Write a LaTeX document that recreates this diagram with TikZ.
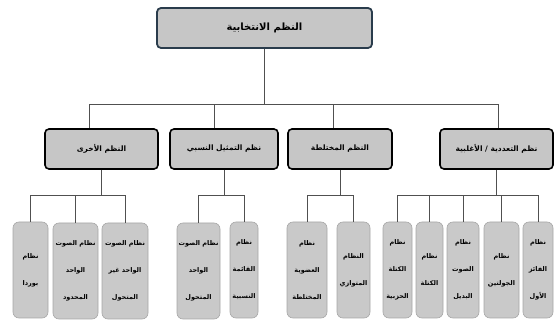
\documentclass[tikz,border=0pt]{standalone}
\usepackage{fontspec}
\usepackage{tikz}
\newfontfamily\arabicfont[Script=Arabic]{DejaVu Sans}
\TeXXeTstate=1
\newcommand{\rl}[1]{\beginR #1\endR}
\definecolor{boxgray}{HTML}{C6C6C6}
\definecolor{leafgray}{HTML}{C9C9C9}
\definecolor{topedge}{HTML}{2A3C4C}
\definecolor{linkgray}{HTML}{505050}

\begin{document}
\begin{tikzpicture}[x=1pt,y=-1pt,
	topbox/.style={draw=topedge,line width=1.8pt,fill=boxgray,rounded corners=4pt,
		minimum width=215pt,minimum height=40pt,inner sep=0pt,
		font=\arabicfont\bfseries\fontsize{10}{12}\selectfont},
	groupbox/.style={draw=black,line width=1.6pt,fill=boxgray,rounded corners=4pt,
		minimum height=40pt,inner sep=0pt,
		font=\arabicfont\bfseries\fontsize{7.5}{9}\selectfont},
	leafbox/.style={draw=gray!70,line width=0.6pt,fill=leafgray,rounded corners=6pt,
		minimum height=96pt,inner sep=0pt,align=center,
		font=\arabicfont\bfseries\fontsize{6.5}{27}\selectfont},
	link/.style={draw=linkgray,line width=0.9pt}]
	\useasboundingbox (0,0) rectangle (555,331);
	% top
	\node[topbox] (sys) at (264.5,28) {\rl{النظم الانتخابية}};
	% groups
	\node[groupbox,minimum width=113pt] (oth) at (101.5,149) {\rl{النظم الأخرى}};
	\node[groupbox,minimum width=108pt] (pr) at (224,149) {\rl{نظم التمثيل النسبي}};
	\node[groupbox,minimum width=104pt] (mix) at (340,149) {\rl{النظم المختلطة}};
	\node[groupbox,minimum width=113pt] (plu) at (496.5,149) {\rl{نظم التعددية / الأغلبية}};
	% leaves
	\node[leafbox,minimum width=35pt] (borda) at (30.5,270) {\rl{نظام}\\\rl{بوردا}};
	\node[leafbox,minimum width=45pt] (lv) at (75.5,271) {\rl{نظام الصوت}\\\rl{الواحد}\\\rl{المحدود}};
	\node[leafbox,minimum width=46pt] (sntv) at (125,271) {\rl{نظام الصوت}\\\rl{الواحد غير}\\\rl{المتحول}};
	\node[leafbox,minimum width=43pt] (stv) at (198.5,271) {\rl{نظام الصوت}\\\rl{الواحد}\\\rl{المتحول}};
	\node[leafbox,minimum width=28pt] (list) at (244,270) {\rl{نظام}\\\rl{القائمة}\\\rl{النسبية}};
	\node[leafbox,minimum width=40pt] (mmp) at (307,270) {\rl{نظام}\\\rl{العضوية}\\\rl{المختلطة}};
	\node[leafbox,minimum width=33pt] (par) at (353.5,270) {\rl{النظام}\\\rl{المتوازي}};
	\node[leafbox,minimum width=29pt] (pbv) at (397.5,270) {\rl{نظام}\\\rl{الكتلة}\\\rl{الحزبية}};
	\node[leafbox,minimum width=27pt] (blk) at (429.5,270) {\rl{نظام}\\\rl{الكتلة}};
	\node[leafbox,minimum width=32pt] (av) at (463,270) {\rl{نظام}\\\rl{الصوت}\\\rl{البديل}};
	\node[leafbox,minimum width=35pt] (trs) at (501.5,270) {\rl{نظام}\\\rl{الجولتين}};
	\node[leafbox,minimum width=30pt] (fptp) at (538,270) {\rl{نظام}\\\rl{الفائز}\\\rl{الأول}};
	% connectors
	\draw[link] (sys.south) -- ++(0,56) coordinate (sysj);
	\foreach \g/\dx in {oth/-12,pr/-10,mix/-7,plu/2}
		\draw[link] ([xshift=\dx pt]\g.north) |- (sysj);
	\draw[link] (oth.south) -- ++(0,26) coordinate (othj);
	\foreach \l in {borda,lv,sntv}
		\draw[link] (\l.north) |- (othj);
	\draw[link] (pr.south) -- ++(0,26) coordinate (prj);
	\foreach \l in {stv,list}
		\draw[link] (\l.north) |- (prj);
	\draw[link] (mix.south) -- ++(0,26) coordinate (mixj);
	\foreach \l in {mmp,par}
		\draw[link] (\l.north) |- (mixj);
	\draw[link] (plu.south) -- ++(0,26) coordinate (pluj);
	\foreach \l in {pbv,blk,av,trs,fptp}
		\draw[link] (\l.north) |- (pluj);
\end{tikzpicture}
\end{document}
